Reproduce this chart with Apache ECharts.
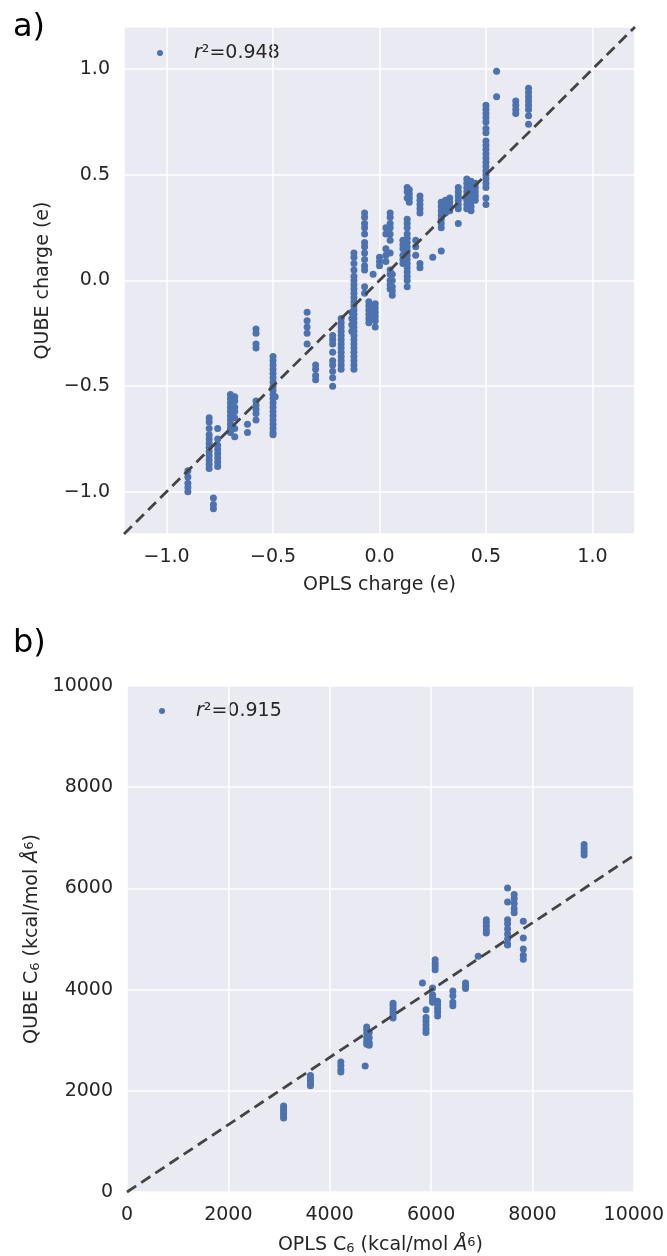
<!DOCTYPE html>
<html>
<head>
<meta charset="utf-8">
<script src="https://cdn.jsdelivr.net/npm/echarts@6/dist/echarts.min.js"></script>
<style>
  html, body { margin: 0; padding: 0; background: #fff; }
  #chart { width: 667px; height: 1256px; }
</style>
</head>
<body>
<div id="chart"></div>
<script>
// panel a: OPLS charge (x) vs QUBE charge (y), grouped by OPLS value
const chargeColumns = [
  [-0.90, [-0.90, -0.93, -0.96, -0.98, -1.00]],
  [-0.80, [-0.65, -0.67, -0.70, -0.73, -0.75, -0.77, -0.79, -0.81, -0.83, -0.85, -0.87, -0.89]],
  [-0.78, [-1.03, -1.06, -1.08]],
  [-0.76, [-0.70, -0.75, -0.78, -0.80, -0.82, -0.84, -0.86, -0.88]],
  [-0.70, [-0.54, -0.56, -0.58, -0.60, -0.62, -0.64, -0.66, -0.68, -0.70, -0.72]],
  [-0.68, [-0.55, -0.57, -0.60, -0.62, -0.65, -0.70, -0.74]],
  [-0.62, [-0.68, -0.72]],
  [-0.58, [-0.23, -0.25, -0.30, -0.32, -0.57, -0.59, -0.61, -0.63, -0.66]],
  [-0.50, [-0.36, -0.38, -0.40, -0.42, -0.44, -0.46, -0.48, -0.50, -0.52, -0.54, -0.56, -0.58, -0.60, -0.62, -0.64, -0.66, -0.68, -0.70, -0.72, -0.73]],
  [-0.49, [-0.55]],
  [-0.34, [-0.15, -0.19, -0.22, -0.25, -0.30]],
  [-0.30, [-0.40, -0.42, -0.45, -0.47]],
  [-0.22, [-0.26, -0.28, -0.30, -0.34, -0.38, -0.40, -0.43, -0.46, -0.50]],
  [-0.18, [-0.18, -0.20, -0.22, -0.24, -0.26, -0.28, -0.30, -0.32, -0.34, -0.36, -0.38, -0.40, -0.42]],
  [-0.13, [-0.15, -0.18, -0.21, -0.24]],
  [-0.12, [0.13, 0.11, 0.08, 0.05, 0.02, 0.00, -0.02, -0.04, -0.06, -0.08, -0.10, -0.12, -0.14, -0.16, -0.18, -0.20, -0.22, -0.24, -0.26, -0.28, -0.30, -0.32, -0.34, -0.36, -0.38, -0.40, -0.42]],
  [-0.07, [0.32, 0.30, 0.27, 0.25, 0.22, 0.18, 0.16, 0.13, 0.10, 0.07, 0.05, -0.03, -0.06]],
  [-0.05, [-0.10, -0.12, -0.14, -0.16, -0.18, -0.20]],
  [-0.02, [-0.11, -0.13, -0.15, -0.17, -0.19, -0.22]],
  [-0.03, [0.03]],
  [0.00, [0.11, 0.09, 0.07]],
  [0.03, [0.25, 0.22, 0.15, 0.12, 0.09]],
  [0.05, [0.32, 0.30, 0.27, 0.25, 0.22, 0.19, 0.13, 0.05, 0.03, 0.00, -0.02, -0.04]],
  [0.06, [0.03, 0.00, -0.03, -0.05, -0.07]],
  [0.11, [0.19, 0.17, 0.15, 0.12, 0.10, 0.08]],
  [0.13, [0.44, 0.42, 0.39, 0.29, 0.27, 0.25, 0.22, 0.20, 0.18, 0.16, 0.14, 0.12, 0.10, 0.08, 0.06, 0.04, 0.02, 0.00, -0.03]],
  [0.14, [0.43, 0.41, 0.39, 0.37]],
  [0.17, [0.19, 0.16, 0.12]],
  [0.19, [0.40, 0.38, 0.36, 0.34, 0.32, 0.08, 0.06]],
  [0.25, [0.11]],
  [0.29, [0.37, 0.35, 0.33, 0.31, 0.29, 0.27, 0.25, 0.14]],
  [0.31, [0.38, 0.36, 0.34, 0.32]],
  [0.33, [0.39, 0.37, 0.35, 0.33]],
  [0.37, [0.44, 0.42, 0.40, 0.38, 0.36, 0.34, 0.27]],
  [0.41, [0.48, 0.46, 0.44, 0.42, 0.40, 0.38, 0.36, 0.34]],
  [0.43, [0.47, 0.45, 0.43, 0.41, 0.39, 0.37, 0.35, 0.33]],
  [0.45, [0.46, 0.44, 0.42, 0.40, 0.38]],
  [0.50, [0.83, 0.81, 0.79, 0.77, 0.75, 0.72, 0.70, 0.66, 0.64, 0.62, 0.60, 0.58, 0.56, 0.54, 0.52, 0.50, 0.48, 0.46, 0.44, 0.39, 0.36]],
  [0.55, [0.99, 0.87]],
  [0.64, [0.85, 0.83, 0.81, 0.79]],
  [0.70, [0.91, 0.89, 0.87, 0.85, 0.83, 0.81, 0.78, 0.74]]
]

// panel b: OPLS C6 (x) vs QUBE C6 (y)
const c6Columns = [
  [3090, [1700, 1650, 1600, 1550, 1500, 1460]],
  [3620, [2300, 2250, 2200, 2150, 2100]],
  [4220, [2570, 2500, 2420, 2370]],
  [4700, [2490]],
  [4730, [3260, 3200, 3130, 3050, 2980, 2920]],
  [4780, [3150, 3050, 2950, 2900]],
  [5250, [3730, 3680, 3620, 3560, 3500, 3440]],
  [5830, [4130]],
  [5900, [3600, 3450, 3380, 3300, 3220, 3150]],
  [6030, [4030, 3900, 3840, 3790, 3750]],
  [6080, [4590, 4520, 4460, 4390]],
  [6130, [3770, 3700, 3630, 3560, 3480]],
  [6430, [3970, 3880, 3750, 3680]],
  [6680, [4130, 4080, 4020]],
  [6930, [4660]],
  [7090, [5380, 5320, 5250, 5180, 5120]],
  [7510, [6010, 5730, 5380, 5300, 5200, 5100, 5000, 4900, 4880]],
  [7640, [5880, 5800, 5700, 5600, 5520]],
  [7820, [5350, 5020, 4800, 4680, 4600]],
  [9020, [6870, 6800, 6730, 6660]]
]

const chargeFitLine = [[-1.2, -1.2], [1.2, 1.2]]
const c6FitLine = [[0, 0], [10000, 6650]]
const chargeR2 = '0.948'
const c6R2 = '0.915'

const flatten = cols => cols.flatMap(([x, ys]) => ys.map(y => [x, y]))

const FONT = '"DejaVu Sans", sans-serif'
const TEXT = '#262626'
const BLUE = '#4C72B0'

const nameRich = {
  sub: { fontSize: 13, verticalAlign: 'bottom', fontFamily: FONT, color: TEXT },
  sup: { fontSize: 13, verticalAlign: 'top', fontFamily: FONT, color: TEXT },
  it: { fontStyle: 'italic', fontSize: 19, fontFamily: FONT, color: TEXT }
}

const tickLabel = { fontFamily: FONT, fontSize: 19, color: TEXT, margin: 14 }

// seaborn darkgrid look: no axis lines or ticks, white grid
function valueAxis(gridIndex, range, name, nameGap, extra) {
  return Object.assign({
    type: 'value', gridIndex, min: range[0], max: range[1],
    name, nameLocation: 'middle', nameGap,
    nameTextStyle: { fontFamily: FONT, fontSize: 19, color: TEXT, rich: nameRich },
    axisLine: { show: false },
    axisTick: { show: false },
    splitLine: { lineStyle: { color: '#fff', width: 1.5 } }
  }, extra)
}

const fmtCharge = v => {
  const s = Math.abs(v).toFixed(1)
  return v < -1e-9 ? '\u2212' + s : s
}

// charge axes run -1.2..1.2 but ticks sit on multiples of 0.5
const chargeAxisExtra = {
  splitNumber: 5,
  axisLabel: Object.assign({ showMinLabel: false, showMaxLabel: false, formatter: fmtCharge }, tickLabel)
}
const c6AxisExtra = {
  interval: 2000,
  axisLabel: Object.assign({ formatter: v => String(v) }, tickLabel)
}

function legendGraphic(x, y, r2) {
  return [
    { type: 'circle', shape: { cx: x, cy: y, r: 3 }, style: { fill: BLUE } },
    {
      type: 'text', x: x + 34, y: y,
      style: {
        text: '{it|r}{n|\u00b2=' + r2 + '}',
        verticalAlign: 'middle',
        rich: {
          it: { fontStyle: 'italic', fontSize: 19, fontFamily: FONT, fill: TEXT },
          n: { fontSize: 19, fontFamily: FONT, fill: TEXT }
        }
      }
    }
  ]
}

const chart = echarts.init(document.getElementById('chart'))
chart.setOption({
  backgroundColor: '#fff',
  animation: false,
  grid: [
    { left: 124, top: 27, width: 511, height: 507, backgroundColor: '#EAEAF2', show: true, borderWidth: 0 },
    { left: 127, top: 686, width: 509, height: 506, backgroundColor: '#EAEAF2', show: true, borderWidth: 0 }
  ],
  xAxis: [
    valueAxis(0, [-1.2, 1.2], 'OPLS charge (e)', 42, chargeAxisExtra),
    valueAxis(1, [0, 10000], 'OPLS C{sub|6} (kcal/mol {it|Å}{sup|6})', 44, c6AxisExtra)
  ],
  yAxis: [
    valueAxis(0, [-1.2, 1.2], 'QUBE charge (e)', 62, chargeAxisExtra),
    valueAxis(1, [0, 10000], 'QUBE C{sub|6} (kcal/mol {it|Å}{sup|6})', 77, c6AxisExtra)
  ],
  series: [
    {
      type: 'scatter', xAxisIndex: 0, yAxisIndex: 0,
      data: flatten(chargeColumns), symbolSize: 7,
      itemStyle: { color: BLUE, opacity: 1 }, z: 3
    },
    {
      type: 'line', xAxisIndex: 0, yAxisIndex: 0, data: chargeFitLine,
      symbol: 'none', lineStyle: { color: '#444', width: 2.8, type: [11, 6] }, z: 4
    },
    {
      type: 'scatter', xAxisIndex: 1, yAxisIndex: 1,
      data: flatten(c6Columns), symbolSize: 7,
      itemStyle: { color: BLUE, opacity: 1 }, z: 3
    },
    {
      type: 'line', xAxisIndex: 1, yAxisIndex: 1, data: c6FitLine,
      symbol: 'none', lineStyle: { color: '#444', width: 2.8, type: [11, 6] }, z: 4
    }
  ],
  graphic: [
    { type: 'text', left: 13, top: 12, style: { text: 'a)', fontFamily: FONT, fontSize: 32, fill: '#000' } },
    { type: 'text', left: 13, top: 628, style: { text: 'b)', fontFamily: FONT, fontSize: 32, fill: '#000' } },
    ...legendGraphic(160, 53, chargeR2),
    ...legendGraphic(162, 711, c6R2)
  ]
})
</script>
</body>
</html>
